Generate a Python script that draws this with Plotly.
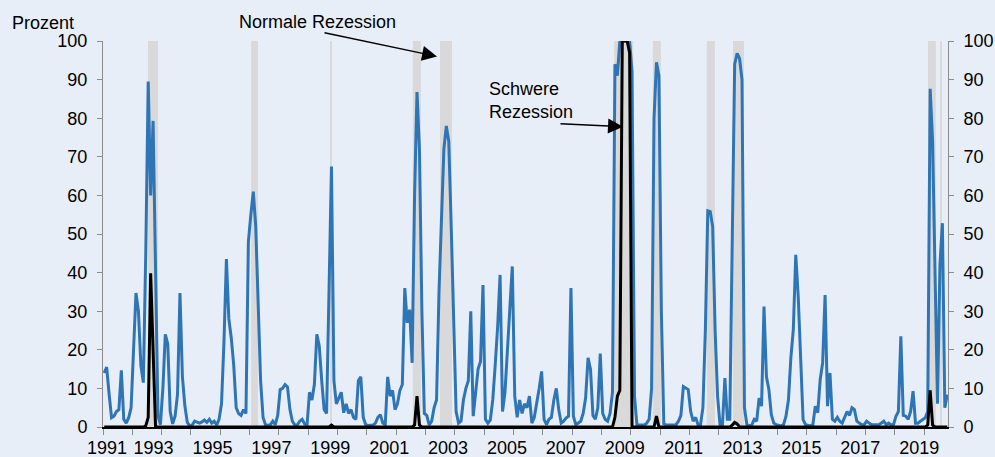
import plotly.graph_objects as go

# ---------------- data ----------------
months = list(range(346))  # monthly observations, index 0 = first month of 1991

# probability of a normal recession (blue), percent
normal = [
    14, 15.5, 8.5, 2.4, 2.8, 4, 4.5, 14.7, 2, 1, 2.4, 5,
    20, 34.7, 30, 16, 11.5, 45, 89.5, 60, 79.3, 40, 3, 0.6,
    10, 24, 21.5, 4, 0.8, 2.8, 8.5, 34.7, 13, 5.5, 1.2, 0.3,
    0.5, 1.5, 1.2, 1, 1.3, 1.8, 1.2, 2, 1, 1.5, 0.5, 2,
    6, 22, 43.5, 28, 23, 16, 5, 3.5, 3, 4.5, 3.5, 48,
    55, 61, 52, 30, 12, 2.5, 0.6, 0.4, 0.6, 1.5, 0.6, 3,
    9.7, 10, 11, 10.4, 4.5, 1.5, 0.5, 0.5, 1.5, 2, 0.8, 0.5,
    9, 7, 11, 24, 21, 12, 4.5, 3.5, 40, 67.5, 12, 6,
    7.5, 9, 3.7, 6, 3.5, 4.5, 2.5, 2, 12, 13, 2.5, 0.6,
    0.4, 0.5, 0.5, 1, 2.5, 3.2, 1, 0.6, 13, 8, 9.5, 4.5,
    6, 9.5, 11, 36, 27, 30.4, 16.6, 60, 86.8, 72, 30, 3.5,
    3, 0.5, 1.5, 5, 7, 35, 56, 72, 78, 74, 52, 25,
    4, 1, 1.5, 7, 10, 12, 30, 2.8, 10, 15, 17, 36.8,
    2, 1, 1.8, 7, 16, 26, 39.4, 4, 9, 20, 30, 41.6,
    8, 2.5, 7, 3.5, 6, 5, 8, 1, 2.5, 6, 10, 14.4,
    2, 0.6, 2, 2.5, 7, 10, 4.5, 1, 1.5, 2.3, 2.8, 36,
    2.8, 0.6, 1, 1.5, 3.5, 7.5, 17.9, 15, 3, 2, 5, 19,
    3.5, 2, 1.5, 3.5, 9, 94, 91, 100, 100, 100, 100, 100,
    92, 8, 0.5, 0.5, 0.4, 0.5, 1, 2, 10, 80, 94.5, 91,
    30, 0.8, 0.5, 0.5, 0.5, 0.6, 0.6, 1.5, 3, 10.5, 10, 9.7,
    4, 1.5, 2.5, 0.6, 0.5, 5, 25, 56, 55.8, 51.9, 25, 8,
    0.6, 0.6, 12.7, 2, 2, 50, 94, 96.8, 95.5, 90, 5, 0.6,
    0.3, 0.5, 2, 1.5, 7.5, 5.4, 31.2, 13, 9.7, 3.2, 1, 0.6,
    0.4, 0.3, 0.6, 2.8, 7, 18, 25.2, 44.6, 33.8, 16.6, 1.9, 0.6,
    0.4, 0.3, 0.6, 5.4, 3.7, 12.3, 16.6, 34.2, 5.4, 14, 2, 1.5,
    2.5, 1.5, 1, 2.3, 4, 3, 5, 4.5, 1.5, 1, 0.6, 0.6,
    1.5, 1, 0.6, 0.6, 0.6, 0.6, 1, 1.5, 0.6, 1, 0.6, 0.6,
    2.8, 4, 23.5, 3, 2.8, 2, 4, 9.3, 1, 1, 1.5, 2,
    2.4, 4, 87.6, 74, 40, 6, 42, 52.8, 5, 8.4,
]

# probability of a severe recession (black), percent; all other months are 0
severe_nonzero = {
    17: 0.3, 18: 2.5, 19: 39.8, 20: 20,
    93: 0.5,
    127: 0.5, 128: 8, 129: 0.5,
    209: 2.5, 210: 8, 211: 9.5, 212: 100, 213: 100, 214: 100, 215: 97,
    226: 2.8,
    257: 0.5, 258: 1.2, 259: 0.8,
    337: 0.5, 338: 9.5, 339: 0.5,
}
severe = [severe_nonzero.get(m, 0.0) for m in months]

# recession periods (start, end) in month index
recessions = [
    (17.9, 22.0), (60.1, 62.9), (92.4, 93.2), (126.3, 129.6), (137.4, 142.3),
    (208.7, 216.5), (224.5, 227.8), (246.6, 249.9), (257.3, 261.8),
    (337.1, 340.3), (342.0, 342.8),
]

year_ticks = [-0.5 + 12 * k for k in range(29)]          # year boundaries
label_text = ["1991", "1993", "1995", "1997", "1999", "2001", "2003", "2005",
              "2007", "2009", "2011", "2013", "2015", "2017", "2019"]
label_pos = [1.1, 20.2, 44.3, 68.4, 92.5, 116.6, 140.7, 164.8,
             188.9, 213.0, 237.1, 261.2, 285.3, 309.4, 333.5]

# ---------------- figure ----------------
BG = "#E8EEF7"
AX = "#8C8C8C"
FONT = dict(family="Liberation Sans, Arial, sans-serif", size=18, color="#000000")
XR = [-0.5, 345.3]

fig = go.Figure()

for a, b in recessions:
    fig.add_shape(type="rect", xref="x", yref="y", x0=a, x1=b, y0=0, y1=100,
                  fillcolor="#D9D9D9", line_width=0, layer="below")

fig.add_trace(go.Scatter(x=months, y=normal, mode="lines", name="Normale Rezession",
                         line=dict(color="#2E75B6", width=3), hoverinfo="x+y"))
fig.add_trace(go.Scatter(x=months, y=severe, mode="lines", name="Schwere Rezession",
                         line=dict(color="#000000", width=3), hoverinfo="x+y"))
# helper trace to carry the label axis / right axis
fig.add_trace(go.Scatter(x=label_pos, y=[0] * len(label_pos), xaxis="x2", yaxis="y2",
                         mode="markers", marker=dict(opacity=0), hoverinfo="skip",
                         showlegend=False))

fig.update_layout(
    template="none",
    width=995, height=457,
    margin=dict(l=103, r=47, t=41, b=30, autoexpand=False),
    paper_bgcolor=BG, plot_bgcolor=BG,
    showlegend=False,
    font=FONT,
    xaxis=dict(range=XR, tickmode="array", tickvals=year_ticks,
               ticktext=[""] * len(year_ticks), ticks="outside", ticklen=6,
               tickcolor=AX, showline=True, linecolor="#000000", linewidth=1.5,
               showgrid=False, zeroline=False, automargin=False),
    xaxis2=dict(range=XR, overlaying="x", anchor="y", side="bottom",
                tickmode="array", tickvals=label_pos, ticktext=label_text,
                ticks="", showline=False, showgrid=False, zeroline=False,
                tickfont=FONT, ticklabelstandoff=8, automargin=False),
    yaxis=dict(range=[0, 100], tickmode="linear", tick0=0, dtick=10,
               ticks="outside", ticklen=5, tickcolor=AX, showline=True,
               linecolor=AX, linewidth=1, showgrid=False, zeroline=False,
               tickfont=FONT, ticklabelstandoff=6, automargin=False),
    yaxis2=dict(range=[0, 100], overlaying="y", anchor="x", side="right",
                tickmode="linear", tick0=0, dtick=10, ticks="outside", ticklen=5,
                tickcolor=AX, showline=True, linecolor=AX, linewidth=1,
                showgrid=False, zeroline=False, tickfont=FONT,
                ticklabelstandoff=6, automargin=False),
)

fig.add_annotation(text="Prozent", xref="paper", yref="paper",
                   x=(10 - 103) / 845, y=(427 - 23) / 386, xanchor="left",
                   yanchor="middle", showarrow=False, font=FONT)
fig.add_annotation(text="Normale Rezession", xref="paper", yref="paper",
                   x=(237 - 103) / 845, y=(427 - 22) / 386, xanchor="left",
                   yanchor="middle", showarrow=False, font=FONT)
fig.add_annotation(text="Schwere<br>Rezession", xref="paper", yref="paper",
                   x=(487 - 103) / 845, y=(427 - 100) / 386, xanchor="left",
                   yanchor="middle", align="left", showarrow=False, font=FONT)

# arrows
fig.add_annotation(text="", x=136.2, y=96.0, xref="x", yref="y",
                   ax=-114, ay=-24, showarrow=True, arrowhead=2, arrowsize=2,
                   arrowwidth=1.5, arrowcolor="#000000", standoff=0)
fig.add_annotation(text="", x=212.3, y=77.8, xref="x", yref="y",
                   ax=-64, ay=-3, showarrow=True, arrowhead=2, arrowsize=2,
                   arrowwidth=1.5, arrowcolor="#000000", standoff=0)

fig.write_html("out.html", config={"displayModeBar": False},
               post_script="document.body.style.margin='0';document.body.style.overflow='hidden';")
